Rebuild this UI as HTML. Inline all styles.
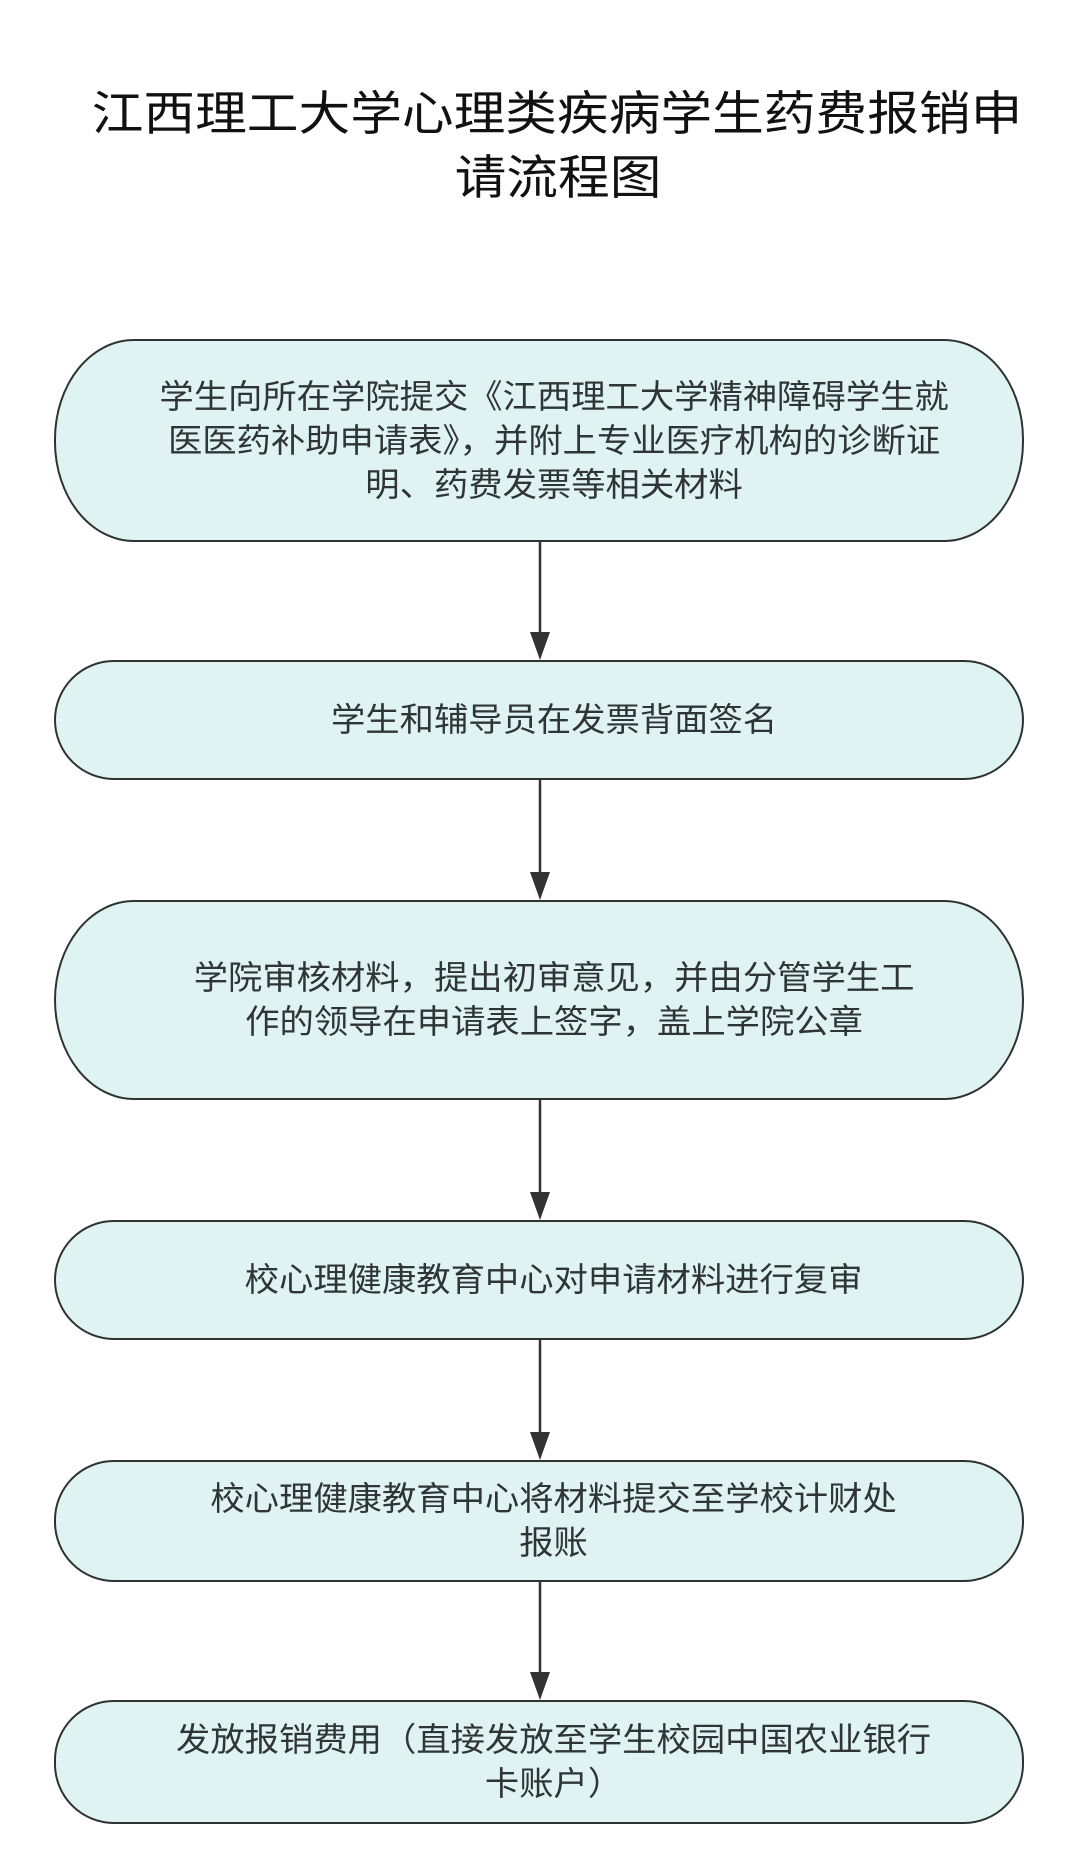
<!DOCTYPE html>
<html><head><meta charset="utf-8"><style>
body{margin:0;width:1080px;height:1875px;background:#fff;position:relative;overflow:hidden;font-family:"Liberation Sans","Noto Sans CJK SC",sans-serif;}
.t{position:absolute;left:0;width:1080px;text-align:center;font-size:47px;color:#111;line-height:64px;}
.t span{display:inline-block;transform:scaleX(1.1);}
.b{position:absolute;left:54px;width:970px;box-sizing:border-box;border:2.5px solid #2e3232;background:#dff3f3;display:flex;align-items:center;justify-content:center;text-align:center;color:#2f3535;font-size:33px;line-height:44px;}
.b div{padding-left:28px;transform:scaleX(1.04);}
</style></head><body>
<div class="t" style="top:82px"><span style="margin-left:34px">江西理工大学心理类疾病学生药费报销申</span><br><span style="margin-left:36px">请流程图</span></div>
<svg width="1080" height="1875" style="position:absolute;left:0;top:0">
<g stroke="#333" stroke-width="2.5">
<line x1="540" y1="542" x2="540" y2="640"/>
<line x1="540" y1="780" x2="540" y2="880"/>
<line x1="540" y1="1100" x2="540" y2="1200"/>
<line x1="540" y1="1340" x2="540" y2="1440"/>
<line x1="540" y1="1582" x2="540" y2="1680"/>
</g>
<g fill="#333">
<polygon points="530,632 550,632 540,660"/>
<polygon points="530,872 550,872 540,900"/>
<polygon points="530,1192 550,1192 540,1220"/>
<polygon points="530,1432 550,1432 540,1460"/>
<polygon points="530,1672 550,1672 540,1700"/>
</g>
</svg>
<div class="b" style="top:339px;height:203px;border-radius:80px/100px"><div>学生向所在学院提交《江西理工大学精神障碍学生就<br>医医药补助申请表》，并附上专业医疗机构的诊断证<br>明、药费发票等相关材料</div></div>
<div class="b" style="top:660px;height:120px;border-radius:60px"><div>学生和辅导员在发票背面签名</div></div>
<div class="b" style="top:900px;height:200px;border-radius:80px/100px"><div>学院审核材料，提出初审意见，并由分管学生工<br>作的领导在申请表上签字，盖上学院公章</div></div>
<div class="b" style="top:1220px;height:120px;border-radius:60px"><div>校心理健康教育中心对申请材料进行复审</div></div>
<div class="b" style="top:1460px;height:122px;border-radius:60px"><div>校心理健康教育中心将材料提交至学校计财处<br>报账</div></div>
<div class="b" style="top:1700px;height:124px;border-radius:60px"><div>发放报销费用（直接发放至学生校园中国农业银行<br>卡账户）</div></div>
</body></html>
